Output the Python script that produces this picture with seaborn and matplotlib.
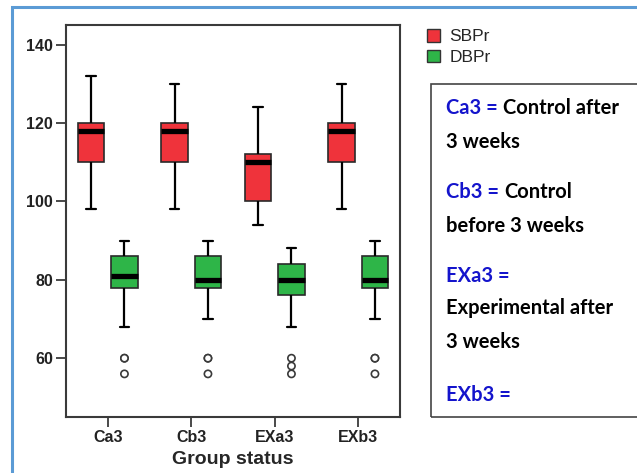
import numpy as np
import pandas as pd
import matplotlib
matplotlib.use("Agg")
import matplotlib.pyplot as plt
import seaborn as sns
from matplotlib.patches import Patch, Rectangle

# ---------------- data ----------------
categories = ["Ca3", "Cb3", "EXa3", "EXb3"]
series = ["SBPr", "DBPr"]

sbp_low = [98, 98, 94, 98]
sbp_q1 = [110, 110, 100, 110]
sbp_med = [118, 118, 110, 118]
sbp_q3 = [120, 120, 112, 120]
sbp_high = [132, 130, 124, 130]

dbp_low = [68, 70, 68, 70]
dbp_q1 = [78, 78, 76, 78]
dbp_med = [81, 80, 80, 80]
dbp_q3 = [86, 86, 84, 86]
dbp_high = [90, 90, 88, 90]

outlier_groups = ["Ca3", "Ca3", "Ca3", "Cb3", "Cb3", "Cb3",
                  "EXa3", "EXa3", "EXa3", "EXb3", "EXb3", "EXb3"]
outlier_values = [60, 60, 56, 60, 60, 56, 60, 58, 56, 60, 60, 56]

yticks = [60, 80, 100, 120, 140]
xlabel = "Group status"

note_lines = [
    [("Ca3 =", "blue"), ("Control after", "black")],
    [("3 weeks", "black")],
    [("Cb3 =", "blue"), ("Control", "black")],
    [("before 3 weeks", "black")],
    [("EXa3 =", "blue")],
    [("Experimental after", "black")],
    [("3 weeks", "black")],
    [("EXb3 =", "blue")],
]

# ---------------- build long table ----------------
rows = []
for i, c in enumerate(categories):
    for v in (sbp_low[i], sbp_q1[i], sbp_med[i], sbp_q3[i], sbp_high[i]):
        rows.append({"group": c, "series": "SBPr", "value": v})
    for v in (dbp_low[i], dbp_q1[i], dbp_med[i], dbp_q3[i], dbp_high[i]):
        rows.append({"group": c, "series": "DBPr", "value": v})
df = pd.DataFrame(rows)
odf = pd.DataFrame({"group": outlier_groups, "series": "DBPr", "value": outlier_values})

palette = {"SBPr": "#EF333B", "DBPr": "#2EB548"}
blue = "#1414CC"

# ---------------- style ----------------
sns.set_style("white")
plt.rcParams["font.family"] = ["Liberation Sans", "DejaVu Sans"]

W, H = 637, 473
fig = plt.figure(figsize=(W / 100, H / 100), dpi=100)
fig.patch.set_facecolor("white")

def fx(px):
    return px / W

def fy(py):
    return 1 - py / H

ax = fig.add_axes([fx(66), fy(417), fx(400) - fx(66), fy(25) - fy(417)])

sns.boxplot(
    data=df, x="group", y="value", hue="series",
    order=categories, hue_order=series, palette=palette, saturation=1,
    width=0.8, gap=0.2, linecolor="#2a2a2a", linewidth=1.2,
    showfliers=False, legend=False, ax=ax,
    medianprops=dict(color="black", linewidth=3.8, solid_capstyle="butt"),
    whiskerprops=dict(color="black", linewidth=1.6),
    capprops=dict(color="black", linewidth=1.6),
)

# shorten whisker caps (about a third of the box width, as in the reference)
for ln in ax.lines:
    xd = np.asarray(ln.get_xdata(), dtype=float)
    yd = np.asarray(ln.get_ydata(), dtype=float)
    if len(xd) == 2 and yd[0] == yd[1] and ln.get_linewidth() < 2:
        span = abs(xd[1] - xd[0])
        if 0 < span < 0.25:
            mid = xd.mean()
            ln.set_xdata([mid - 0.055, mid + 0.055])

sns.stripplot(
    data=odf, x="group", y="value", hue="series",
    order=categories, hue_order=series, dodge=True, jitter=False,
    palette={"SBPr": "white", "DBPr": "white"}, edgecolor="#3a3a3a",
    linewidth=1.2, size=5.2, legend=False, ax=ax, zorder=5,
)

ax.set_xlim(-0.5, 3.5)
ax.set_ylim(45, 145)
ax.set_yticks(yticks)
ax.set_ylabel("")
ax.set_xlabel(xlabel, fontsize=14, fontweight="bold", labelpad=4)
for s in ax.spines.values():
    s.set_visible(True)
    s.set_color("#3a3a3a")
    s.set_linewidth(1.5)
ax.tick_params(axis="both", direction="out", length=7, width=1.3,
               color="#3a3a3a", labelsize=11.5, pad=2.5,
               bottom=True, left=True)
for lab in ax.get_xticklabels() + ax.get_yticklabels():
    lab.set_fontweight("bold")
    lab.set_color("#222222")

# ---------------- legend ----------------
handles = [Patch(facecolor=palette[s], edgecolor="#333333", linewidth=1.0) for s in series]
fig.legend(handles, series, loc="upper left",
           bbox_to_anchor=(fx(427), fy(29)), frameon=False,
           fontsize=12.5, handlelength=0.75, handleheight=0.75,
           handletextpad=0.55, labelspacing=0.3, borderpad=0,
           borderaxespad=0)

# ---------------- figure border and note box ----------------
fig.add_artist(Rectangle((fx(12), fy(480)), 1.2, fy(7.5) - fy(480),
                         transform=fig.transFigure, fill=False,
                         edgecolor="#5B9BD5", linewidth=2.2, clip_on=False))
fig.add_artist(Rectangle((fx(431), fy(417)), 1.0, fy(84) - fy(417),
                         transform=fig.transFigure, fill=False,
                         edgecolor="#444444", linewidth=1.2, clip_on=False))

baselines = [114, 147.5, 198, 231.5, 282, 314.5, 347.5, 401]
note_font = dict(fontsize=14.5, fontweight="bold", family=["Lato", "DejaVu Sans"])
for base, parts in zip(baselines, note_lines):
    prev = None
    for txt, col in parts:
        c = blue if col == "blue" else "black"
        if prev is None:
            prev = ax.annotate(txt, xy=(fx(446), fy(base)), xycoords="figure fraction",
                               ha="left", va="baseline", color=c, **note_font)
        else:
            prev = ax.annotate(txt, xy=(1, 0), xycoords=prev, xytext=(3.5, 0),
                               textcoords="offset points", ha="left", va="bottom",
                               color=c, **note_font)

fig.savefig("out.png", dpi=100)
